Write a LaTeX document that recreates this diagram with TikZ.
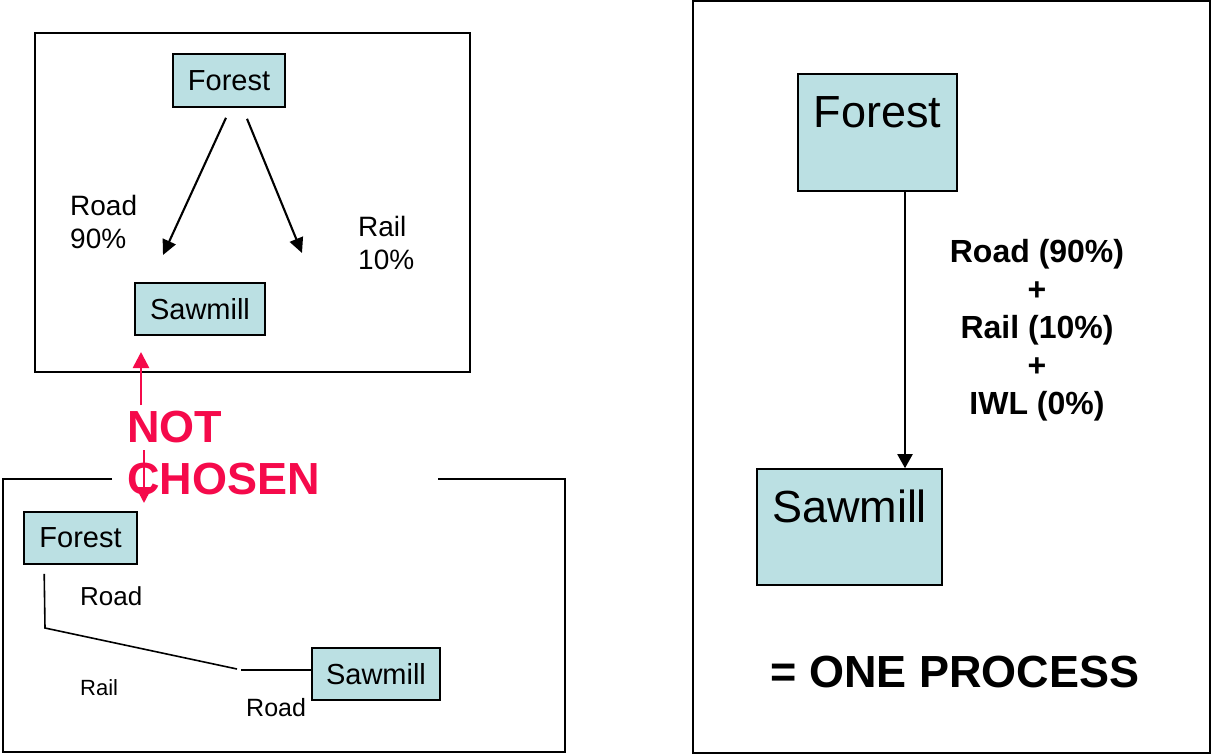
\documentclass[tikz,border=0pt]{standalone}
\usepackage{fontspec}
\setmainfont{Liberation Sans}
\usetikzlibrary{arrows.meta}
\definecolor{boxfill}{RGB}{187,224,227}
\definecolor{notred}{RGB}{245,10,75}
\begin{document}
\begin{tikzpicture}[x=1pt,y=-1pt, line join=miter,
	site/.style={draw, fill=boxfill, line width=1.6pt, inner sep=0pt, font=\fontsize{29}{33}\selectfont},
	bigsite/.style={draw, fill=boxfill, line width=1.6pt, inner sep=0pt, anchor=base, text height=53pt, font=\fontsize{45}{50}\selectfont},
	lbl/.style={inner sep=0pt, align=left},
	arr/.style={-{Triangle[length=15pt,width=14pt]}, line width=2.1pt},
	redarr/.style={-{Triangle[length=16pt,width=16pt]}, line width=2.6pt, color=notred}]
	\useasboundingbox (0,0) rectangle (1212,755);
	% top left: two modes
	\draw[line width=1.6pt] (35,33) rectangle (470,372);
	\node[site, minimum width=112pt, minimum height=53pt] (forestA) at (229,80.5) {Forest};
	\node[site, minimum width=130pt, minimum height=52pt] (sawmillA) at (200,309) {Sawmill};
	\coordinate (roadEnd) at (163,255);
	\coordinate (railEnd) at (302,253);
	\draw[arr] ([xshift=-3pt,yshift=-10pt]forestA.south) -- (roadEnd);
	\draw[arr] ([xshift=18pt,yshift=-11pt]forestA.south) -- (railEnd);
	\node[lbl, anchor=north west, font=\fontsize{28}{33}\selectfont] (roadA) at (70,195) {Road\\90\%};
	\node[lbl, anchor=north west, font=\fontsize{28}{33}\selectfont] (railA) at (358,216) {Rail\\10\%};
	% bottom left: chained modes
	\draw[line width=1.6pt] (112,479) -- (3,479) -- (3,752) -- (565,752) -- (565,479) -- (438,479);
	\node[site, minimum width=113pt, minimum height=52pt] (forestB) at (80.5,538) {Forest};
	\node[site, minimum width=128pt, minimum height=52pt] (sawmillB) at (376,674) {Sawmill};
	\coordinate (bend1) at (45,628);
	\coordinate (bend2) at (237,669);
	\coordinate (bend3) at (241,670);
	\draw[line width=1.6pt] ([xshift=21pt,yshift=-9pt]forestB.south west) -- (bend1) -- (bend2);
	\draw[line width=1.6pt] (bend3) -- (bend3 -| sawmillB.west);
	\node[lbl, anchor=base west, font=\fontsize{26}{30}\selectfont] (roadB) at (80,605) {Road};
	\node[lbl, anchor=base west, font=\fontsize{22}{26}\selectfont] (railB) at (80,695) {Rail};
	\node[lbl, anchor=base west, font=\fontsize{25}{30}\selectfont] (roadC) at (246,716) {Road};
	% not chosen
	\node[lbl, anchor=north west, text=notred, font=\bfseries\fontsize{45}{52}\selectfont] (notchosen) at (127,411) {NOT\\CHOSEN};
	\coordinate (upTip) at (141,352);
	\coordinate (downTip) at (144,503);
	\draw[redarr] (upTip |- notchosen.north) ++(0,-6) -- (upTip);
	\draw[redarr] ([yshift=-39pt]downTip |- notchosen.north) -- (downTip);
	% right: one process
	\draw[line width=1.6pt] (693,1) rectangle (1210,753);
	\node[bigsite, minimum width=159pt, text depth=64pt] (forestC) at (877.5,127) {Forest};
	\node[bigsite, minimum width=185pt, text depth=63pt] (sawmillC) at (849.5,522) {Sawmill};
	\coordinate (arrTop) at ([xshift=27.5pt]forestC.south);
	\draw[arr, -{Triangle[length=14pt,width=15pt]}] (arrTop) -- (arrTop |- sawmillC.north);
	\node[inner sep=0pt, align=center, anchor=north, font=\bfseries\fontsize{32}{38}\selectfont] (modes) at (1037,239) {Road (90\%)\\+\\Rail (10\%)\\+\\IWL (0\%)};
	\node[inner sep=0pt, anchor=base, font=\bfseries\fontsize{45}{50}\selectfont] (oneproc) at (955,687) {= ONE PROCESS};
\end{tikzpicture}
\end{document}
